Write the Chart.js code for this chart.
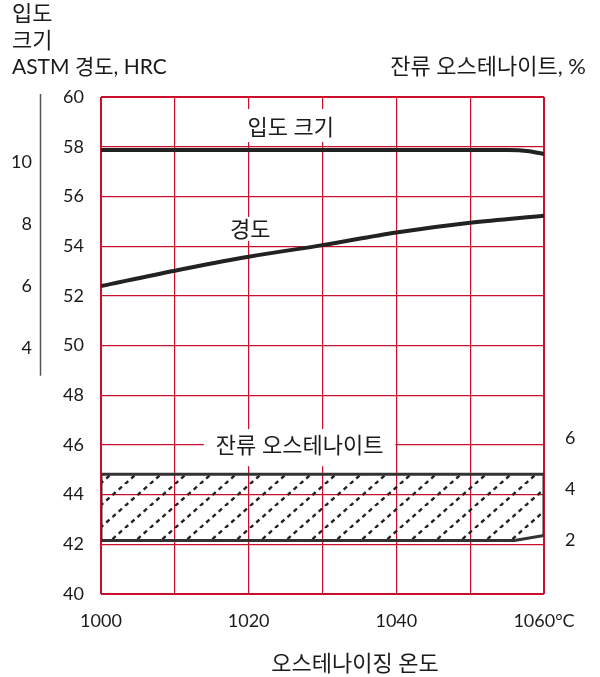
<!DOCTYPE html>
<html>
<head>
<meta charset="utf-8">
<script src="https://cdn.jsdelivr.net/npm/chart.js@4.4.1/dist/chart.umd.min.js"></script>
<style>
  html, body { margin: 0; padding: 0; background: #fff; }
</style>
</head>
<body>
<canvas id="grafico" width="600" height="677"></canvas>
<script>
// dados
const temperaturas = [1000, 1010, 1020, 1030, 1040, 1050, 1060];
const dureza = [52.39, 53.01, 53.57, 54.04, 54.55, 54.94, 55.22];

const tempGrao = [1000, 1020, 1040, 1055, 1058, 1060];
const tamanhoGrao = [10.39, 10.39, 10.39, 10.39, 10.35, 10.26];

const tempAust = [1000, 1056, 1060];
const austSuperior = [4.6, 4.6, 4.6];
const austInferior = [2.0, 2.0, 2.2];

const ticksX = [1000, 1020, 1040, 1060];
const ticksGrao = [4, 6, 8, 10];
const ticksAust = [2, 4, 6];

const VERMELHO = "#c8102e";
const TEXTO = "#1c1a1a";
const FONTE = "Lato, 'Noto Sans CJK KR', sans-serif";

function pontos(xs, ys) {
  return xs.map((x, i) => ({ x: x, y: ys[i] }));
}

function criarHachura() {
  const c = document.createElement("canvas");
  c.width = 25; c.height = 22;
  const g = c.getContext("2d");
  g.strokeStyle = "#222";
  g.lineWidth = 2.4;
  g.setLineDash([4.3, 4.0]);
  [-25, 0, 25].forEach(dx => {
    g.beginPath();
    g.moveTo(dx, 22);
    g.lineTo(dx + 25, 0);
    g.stroke();
  });
  return g.createPattern(c, "repeat");
}

// contorno da faixa de austenita retida
const contorno = [];
tempAust.forEach((t, i) => contorno.push({ x: t, y: austSuperior[i] }));
for (let i = tempAust.length - 1; i >= 0; i--) contorno.push({ x: tempAust[i], y: austInferior[i] });
contorno.push(contorno[0]);

// textos de cabecalho e rotulos
const textos = {
  id: "textos",
  beforeDatasetsDraw(chart) {
    const { ctx, scales: { x, y } } = chart;
    // fundo branco: acima, abaixo, folga lateral
    const rotulos = [
      { t: "입도 크기", x: 1025.7, y: 58.75, cima: 19, baixo: 14, lado: 4 },
      { t: "경도", x: 1020.2, y: 54.65, cima: 13, baixo: 11, lado: 4 },
      { t: "잔류 오스테나이트", x: 1026.9, y: 45.95, cima: 17, baixo: 20, lado: 12 }
    ];
    ctx.save();
    ctx.font = "22px " + FONTE;
    ctx.textAlign = "center";
    ctx.textBaseline = "middle";
    rotulos.forEach(r => {
      const px = x.getPixelForValue(r.x);
      const py = y.getPixelForValue(r.y);
      const w = ctx.measureText(r.t).width + 2 * r.lado;
      ctx.fillStyle = "#fff";
      ctx.fillRect(px - w / 2, py - r.cima, w, r.cima + r.baixo);
      ctx.fillStyle = TEXTO;
      ctx.fillText(r.t, px, py);
    });
    ctx.restore();
  },
  afterDraw(chart) {
    const { ctx } = chart;
    const g = chart.scales.yGrao;
    ctx.save();
    // linha do eixo de tamanho de grao
    ctx.strokeStyle = "#555";
    ctx.lineWidth = 1.5;
    ctx.beginPath();
    ctx.moveTo(g.right - 4.5, g.getPixelForValue(12.2));
    ctx.lineTo(g.right - 4.5, g.getPixelForValue(3.1));
    ctx.stroke();

    ctx.fillStyle = TEXTO;
    ctx.font = "22px " + FONTE;
    ctx.textBaseline = "middle";
    ctx.textAlign = "left";
    ctx.fillText("입도", 12, 14);
    ctx.fillText("크기", 12, 41);
    ctx.font = "21px " + FONTE;
    ctx.fillText("ASTM 경도, HRC", 12, 67);
    ctx.textAlign = "right";
    ctx.font = "22px " + FONTE;
    ctx.fillText("잔류 오스테나이트, %", 586, 67);
    ctx.textAlign = "center";
    ctx.fillText("오스테나이징 온도", 355, 664);
    ctx.restore();
  }
};

function inicializarGrafico() {
  const ctx = document.getElementById("grafico").getContext("2d");
  const hachura = criarHachura();
  const fonteTicks = { family: FONTE, size: 18 };

  new Chart(ctx, {
    type: "line",
    data: {
      datasets: [
        {
          label: "입도 크기",
          data: pontos(tempGrao, tamanhoGrao),
          yAxisID: "yGrao",
          borderColor: "#222",
          borderWidth: 4,
          pointRadius: 0,
          cubicInterpolationMode: "monotone",
          fill: false
        },
        {
          label: "경도",
          data: pontos(temperaturas, dureza),
          yAxisID: "y",
          borderColor: "#222",
          borderWidth: 4,
          pointRadius: 0,
          cubicInterpolationMode: "monotone",
          fill: false
        },
        {
          label: "contorno",
          data: contorno,
          yAxisID: "yAust",
          borderColor: "#333",
          borderWidth: 3,
          pointRadius: 0,
          tension: 0,
          fill: false
        },
        {
          label: "superior",
          data: pontos(tempAust, austSuperior),
          yAxisID: "yAust",
          borderWidth: 0,
          pointRadius: 0,
          fill: false
        },
        {
          label: "inferior",
          data: pontos(tempAust, austInferior),
          yAxisID: "yAust",
          borderWidth: 0,
          pointRadius: 0,
          backgroundColor: hachura,
          fill: "-1"
        }
      ]
    },
    options: {
      responsive: false,
      animation: false,
      layout: { padding: { top: 97, left: 0, right: 0, bottom: 0 } },
      plugins: {
        legend: { display: false },
        tooltip: { enabled: false }
      },
      scales: {
        x: {
          type: "linear",
          min: 1000,
          max: 1060,
          afterFit: s => { s.height = 83; },
          border: { display: false },
          grid: {
            color: VERMELHO,
            lineWidth: c => (c.tick && (c.tick.value === 1000 || c.tick.value === 1060)) ? 2 : 1.2,
            drawTicks: false
          },
          ticks: {
            stepSize: 10,
            autoSkip: false,
            maxRotation: 0,
            padding: 16,
            color: TEXTO,
            font: fonteTicks,
            callback: v => ticksX.includes(v) ? (v === 1060 ? "1060°C" : String(v)) : ""
          }
        },
        y: {
          position: "left",
          weight: 0,
          min: 40,
          max: 60,
          afterFit: s => { s.width = 56; },
          border: { display: false },
          grid: {
            color: VERMELHO,
            lineWidth: c => (c.tick && (c.tick.value === 40 || c.tick.value === 60)) ? 2 : 1.2,
            drawTicks: false
          },
          ticks: {
            stepSize: 2,
            padding: 17,
            color: TEXTO,
            font: fonteTicks
          }
        },
        yGrao: {
          position: "left",
          weight: 1,
          min: -3.94,
          max: 12.1,
          afterFit: s => { s.width = 45; },
          afterBuildTicks: s => { s.ticks = ticksGrao.map(v => ({ value: v })); },
          border: { display: false },
          grid: { display: false, drawTicks: false },
          ticks: {
            padding: 13,
            color: TEXTO,
            font: fonteTicks
          }
        },
        yAust: {
          position: "right",
          min: -0.1,
          max: 19.4,
          afterFit: s => { s.width = 56; },
          afterBuildTicks: s => { s.ticks = ticksAust.map(v => ({ value: v })); },
          border: { display: false },
          grid: { display: false, drawTicks: false },
          ticks: {
            padding: 21,
            color: TEXTO,
            font: fonteTicks
          }
        }
      }
    },
    plugins: [textos]
  });
}

document.addEventListener("DOMContentLoaded", inicializarGrafico);
</script>
</body>
</html>
